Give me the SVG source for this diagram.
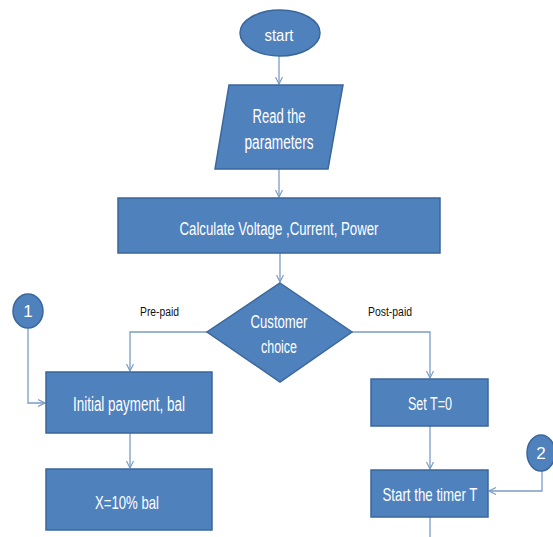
<svg xmlns="http://www.w3.org/2000/svg" width="553" height="537" viewBox="0 0 553 537">
<style>
.n{fill:#4F81BD;stroke:#3A679C;stroke-width:1.5}
.t{fill:#ffffff;font-family:"Liberation Sans",Arial,sans-serif;text-anchor:middle}
.l{fill:#111111;font-family:"Liberation Sans",Arial,sans-serif;font-size:12.5px}
.c{fill:none;stroke:#7A9CC6;stroke-width:1.3}
</style>
<defs>
<marker id="ah" viewBox="0 0 8 8" refX="7.5" refY="4" markerWidth="8" markerHeight="8" markerUnits="userSpaceOnUse" orient="auto">
<path d="M0.5,0.5 L7.5,4 L0.5,7.5" fill="none" stroke="#7A9CC6" stroke-width="1.2"/>
</marker>
</defs>
<rect width="553" height="537" fill="#ffffff"/>
<g id="connectors">
<path class="c" d="M279,56 V84" marker-end="url(#ah)"/>
<path class="c" d="M279,169 V197" marker-end="url(#ah)"/>
<path class="c" d="M280,253 V282" marker-end="url(#ah)"/>
<path class="c" d="M207,332 H130 V371" marker-end="url(#ah)"/>
<path class="c" d="M352,332 H430 V378" marker-end="url(#ah)"/>
<path class="c" d="M130,433 V468" marker-end="url(#ah)"/>
<path class="c" d="M430,426 V469" marker-end="url(#ah)"/>
<path class="c" d="M28,328 V403 H45" marker-end="url(#ah)"/>
<path class="c" d="M542,471 V491 H489" marker-end="url(#ah)"/>
<path class="c" d="M430,517 V537"/>
<text class="l" x="140" y="316" textLength="39" lengthAdjust="spacingAndGlyphs">Pre-paid</text>
<text class="l" x="368" y="316" textLength="44" lengthAdjust="spacingAndGlyphs">Post-paid</text>
</g>
<g id="start">
<ellipse class="n" cx="280" cy="33" rx="40" ry="23"/>
<text class="t" x="279" y="41" font-size="17" textLength="29" lengthAdjust="spacingAndGlyphs">start</text>
</g>
<g id="read">
<polygon class="n" points="229,85 343,85 328,169 215,169"/>
<text class="t" x="279" y="123" font-size="20" textLength="53" lengthAdjust="spacingAndGlyphs">Read the</text>
<text class="t" x="279" y="149" font-size="20" textLength="69" lengthAdjust="spacingAndGlyphs">parameters</text>
</g>
<g id="calc">
<rect class="n" x="118" y="198" width="322" height="55"/>
<text class="t" x="279" y="235" font-size="18" textLength="199" lengthAdjust="spacingAndGlyphs">Calculate Voltage ,Current, Power</text>
</g>
<g id="choice">
<polygon class="n" points="280,283 352,332 280,382 207,332"/>
<text class="t" x="279" y="328" font-size="17.5" textLength="57" lengthAdjust="spacingAndGlyphs">Customer</text>
<text class="t" x="279" y="353" font-size="17.5" textLength="36" lengthAdjust="spacingAndGlyphs">choice</text>
</g>
<g id="initial">
<rect class="n" x="46" y="372" width="166" height="61"/>
<text class="t" x="129" y="411" font-size="20" textLength="112" lengthAdjust="spacingAndGlyphs">Initial payment, bal</text>
</g>
<g id="x10">
<rect class="n" x="46" y="469" width="166" height="61"/>
<text class="t" x="127" y="509" font-size="19" textLength="64" lengthAdjust="spacingAndGlyphs">X=10% bal</text>
</g>
<g id="sett">
<rect class="n" x="371" y="379" width="117" height="47"/>
<text class="t" x="430" y="410" font-size="18.5" textLength="44" lengthAdjust="spacingAndGlyphs">Set T=0</text>
</g>
<g id="timer">
<rect class="n" x="371" y="470" width="117" height="47"/>
<text class="t" x="430" y="501" font-size="18.5" textLength="95" lengthAdjust="spacingAndGlyphs">Start the timer T</text>
</g>
<g id="c1">
<ellipse class="n" cx="28" cy="311" rx="15" ry="17"/>
<text class="t" x="28" y="317" font-size="17">1</text>
</g>
<g id="c2">
<ellipse class="n" cx="541" cy="453" rx="14" ry="18"/>
<text class="t" x="541" y="459" font-size="17">2</text>
</g>
</svg>
